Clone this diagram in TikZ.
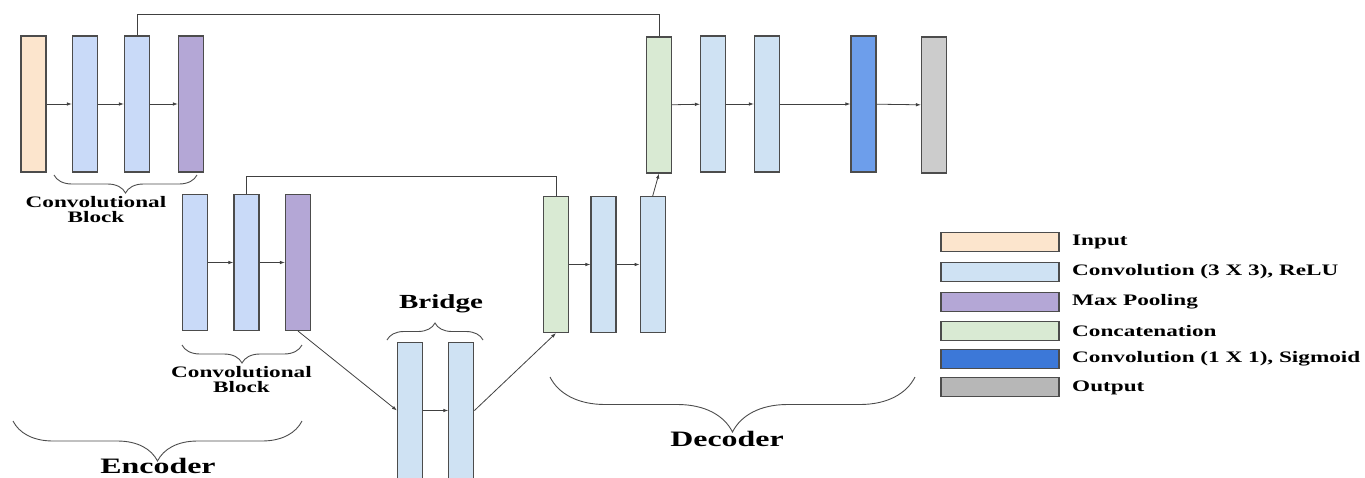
\documentclass[tikz,border=0pt]{standalone}
\usepackage{fontspec}
\setmainfont{Liberation Serif}[FakeStretch=1.45]
\usetikzlibrary{arrows.meta,decorations.pathreplacing}

\definecolor{inputc}{HTML}{FCE5CD}
\definecolor{convenc}{HTML}{C9DAF8}
\definecolor{convdec}{HTML}{CFE2F3}
\definecolor{poolc}{HTML}{B4A7D6}
\definecolor{concatc}{HTML}{D9EAD3}
\definecolor{sigc}{HTML}{6D9EEB}
\definecolor{sigkey}{HTML}{3C78D8}
\definecolor{outc}{HTML}{CCCCCC}
\definecolor{outkey}{HTML}{B7B7B7}

\begin{document}
\begin{tikzpicture}[x=1pt,y=-1pt,
    layer/.style={draw=black!70, line width=1.1pt, minimum width=25pt, minimum height=136pt, inner sep=0pt},
    key/.style={draw=black!70, line width=1.1pt, minimum width=118pt, minimum height=19pt, inner sep=0pt},
    link/.style={draw=black!75, line width=0.8pt},
    flow/.style={link, -{Latex[length=5pt,width=3.5pt]}},
    curly/.style={draw=black!70, line width=0.9pt, decorate, decoration={brace, amplitude=#1}},
    title/.style={font=\bfseries\fontsize{16}{15}\selectfont, align=center},
    big/.style={font=\bfseries\fontsize{22}{22}\selectfont},
    keytext/.style={font=\bfseries\fontsize{16}{16}\selectfont, anchor=west, inner sep=0pt}]
    \useasboundingbox (0,0) rectangle (1365,477);

    % encoder, first level
    \node[layer, fill=inputc] (in) at (33.5,104) {};
    \node[layer, fill=convenc] (c1) at (85,104) {};
    \node[layer, fill=convenc] (c2) at (137,104) {};
    \node[layer, fill=poolc] (p1) at (191,104) {};

    % encoder, second level
    \node[layer, fill=convenc] (c3) at (195,262.5) {};
    \node[layer, fill=convenc] (c4) at (246.5,262.5) {};
    \node[layer, fill=poolc] (p2) at (298,262.5) {};

    % bridge
    \node[layer, fill=convdec] (b1) at (410,410.5) {};
    \node[layer, fill=convdec] (b2) at (461.4,410.5) {};

    % decoder
    \node[layer, fill=concatc] (g2) at (556,264.5) {};
    \node[layer, fill=convdec] (c5) at (603.5,264.5) {};
    \node[layer, fill=convdec] (c6) at (652.7,264.5) {};
    \node[layer, fill=concatc] (g1) at (659,105) {};
    \node[layer, fill=convdec] (c7) at (713,104) {};
    \node[layer, fill=convdec] (c8) at (767,104) {};
    \node[layer, fill=sigc] (sg) at (863.5,104) {};
    \node[layer, fill=outc] (out) at (934,105) {};

    \foreach \a/\b in {in/c1,c1/c2,c2/p1,c3/c4,c4/p2,b1/b2,g2/c5,c5/c6,g1/c7,c7/c8,c8/sg,sg/out}
        \draw[flow] (\a) -- (\b);
    \draw[flow] (p2.south) -- (b1.west);
    \draw[flow] (b2.east) -- (g2.south);
    \draw[flow] (c6.north) -- (g1.south);

    % skip connections
    \draw[link] (c2.north) -- ++(0,-21) -| (g1.north);
    \draw[link] (c4.north) -- ++(0,-18) -| (g2.north);

    % braces and their labels
    \draw[curly=18pt] (197,175) -- (54,175);
    \node[title] (blk1) at (96,209.5) {Convolutional\\Block};
    \draw[curly=18pt] (302,345) -- (182,345);
    \node[title] (blk2) at (241.5,379.5) {Convolutional\\Block};
    \draw[curly=40pt] (302,421) -- (13,421);
    \node[big] (enc) at (158,465.5) {Encoder};
    \draw[curly=17pt] (387,340) -- (483,340);
    \node[font=\bfseries\fontsize{20}{20}\selectfont] (brg) at (441,304) {Bridge};
    \draw[curly=55pt] (915,377) -- (550,377);
    \node[big] (dec) at (727,439) {Decoder};

    % legend
    \foreach \y/\c/\t [count=\i] in {241.7/inputc/Input, 272/convdec/{Convolution (3 X 3), ReLU},
        301.7/poolc/Max Pooling, 330.7/concatc/Concatenation,
        359.2/sigkey/{Convolution (1 X 1), Sigmoid}, 387.4/outkey/Output} {
        \node[key, fill=\c] (key\i) at (1000,\y) {};
        \node[keytext] (lab\i) at (1072,\y) {\t};
    }
\end{tikzpicture}
\end{document}
